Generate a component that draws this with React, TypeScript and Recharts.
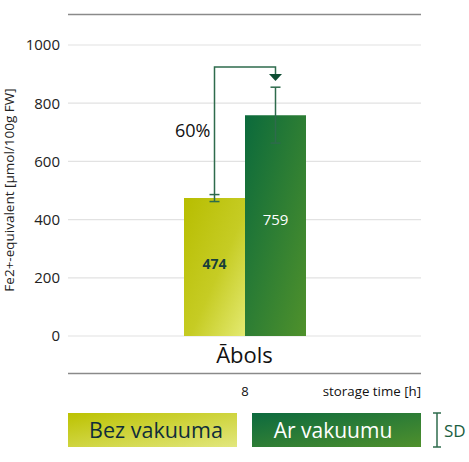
import React from 'react';
import { BarChart, Bar, XAxis, YAxis, CartesianGrid, ErrorBar, LabelList } from 'recharts';

const categories = ['Ābols'];
const bezVakuumaValues = [474];
const arVakuumuValues = [759];
const bezVakuumaSd = [12];
const arVakuumuSd = [96];
const yTicks = [0, 200, 400, 600, 800, 1000];
const storageTimes = ['8'];
const seriesNames = ['Bez vakuuma', 'Ar vakuumu'];
const increaseLabels = ['60%'];
const bracketTopValues = [924];
const arrowTipValues = [876];

const data = categories.map((name, i) => ({
  name,
  bez: bezVakuumaValues[i],
  ar: arVakuumuValues[i],
  bezSd: bezVakuumaSd[i],
  arSd: arVakuumuSd[i],
}));

const FONT = "'Open Sans', sans-serif";
const ERR = '#2e6b4c';

const Bracket = (props: any) => {
  const vb = props.viewBox || {};
  const x = props.x ?? vb.x;
  const y = props.y ?? vb.y;
  const width = props.width ?? vb.width;
  const height = props.height ?? vb.height;
  const index = props.index ?? 0;
  const value = data[index].bez;
  const base = y + height;
  const py = (v: number) => base - (height * v) / value;
  const cx1 = x + width / 2;
  const cx2 = x + width * 1.5;
  const startY = py(value + data[index].bezSd);
  const topY = py(bracketTopValues[index]);
  const tipY = py(arrowTipValues[index]);
  return (
    <g>
      <polyline
        points={`${cx1},${startY} ${cx1},${topY} ${cx2},${topY} ${cx2},${tipY - 7}`}
        fill="none"
        stroke={ERR}
        strokeWidth={1.5}
      />
      <polygon points={`${cx2 - 6.5},${tipY - 7} ${cx2 + 6.5},${tipY - 7} ${cx2},${tipY}`} fill="#0e4d33" />
      <text x={cx1 - 4} y={py(685)} textAnchor="end" fontFamily={FONT} fontSize={18} fontWeight={500} fill="#111">
        {increaseLabels[index]}
      </text>
    </g>
  );
};

export default function App() {
  return (
    <div style={{ position: 'absolute', left: 0, top: 0, width: 469, height: 462, background: '#fff', fontFamily: FONT }}>
      <BarChart
        width={469}
        height={462}
        data={data}
        margin={{ top: 45, right: 48, left: 0, bottom: 96 }}
        barGap={0}
      >
        <defs>
          <linearGradient id="gBez" x1="0" y1="0" x2="1" y2="1">
            <stop offset="0%" stopColor="#b7bd00" />
            <stop offset="55%" stopColor="#c6cc24" />
            <stop offset="100%" stopColor="#e4ea72" />
          </linearGradient>
          <linearGradient id="gAr" x1="0" y1="0" x2="1" y2="1">
            <stop offset="0%" stopColor="#0b6a3c" />
            <stop offset="100%" stopColor="#4f912b" />
          </linearGradient>
        </defs>
        <CartesianGrid vertical={false} stroke="#e2e2e2" strokeWidth={1.2} />
        <XAxis
          dataKey="name"
          axisLine={false}
          tickLine={false}
          height={30}
          tickMargin={5}
          tick={{ fontSize: 22, fill: '#111', fontFamily: FONT }}
        />
        <YAxis
          domain={[0, 1000]}
          ticks={yTicks}
          width={68}
          axisLine={false}
          tickLine={false}
          tick={{ fontSize: 15, fill: '#222', fontFamily: FONT }}
        />
        <Bar dataKey="bez" fill="url(#gBez)" barSize={61} isAnimationActive={false}>
          <ErrorBar dataKey="bezSd" width={5} stroke={ERR} strokeWidth={1.5} />
          <LabelList dataKey="bez" content={Bracket} />
          <LabelList dataKey="bez" position="center" dy={-3} fill="#17403a" fontSize={14} fontWeight={700} fontFamily={FONT} />
        </Bar>
        <Bar dataKey="ar" fill="url(#gAr)" barSize={61} isAnimationActive={false}>
          <ErrorBar dataKey="arSd" width={5} stroke={ERR} strokeWidth={1.5} />
          <LabelList dataKey="ar" position="center" dy={-6} fill="#ffffff" fontSize={15} fontWeight={500} fontFamily={FONT} />
        </Bar>
      </BarChart>
      <svg width={469} height={462} style={{ position: 'absolute', left: 0, top: 0, pointerEvents: 'none' }}>
        <defs>
          <linearGradient id="lBez" x1="0" y1="0" x2="1" y2="1">
            <stop offset="0%" stopColor="#bcc200" />
            <stop offset="100%" stopColor="#e2e77e" />
          </linearGradient>
          <linearGradient id="lAr" x1="0" y1="0" x2="1" y2="1">
            <stop offset="0%" stopColor="#0c6a3f" />
            <stop offset="100%" stopColor="#4f902c" />
          </linearGradient>
        </defs>
        <line x1={68} x2={421} y1={14.5} y2={14.5} stroke="#8a8a8a" strokeWidth={1.3} />
        <line x1={68} x2={421} y1={373.5} y2={373.5} stroke="#8a8a8a" strokeWidth={1.3} />
        <text
          transform="translate(14,190) rotate(-90)"
          textAnchor="middle"
          fontFamily={FONT}
          fontSize={13.5}
          fill="#222"
        >
          Fe2+-equivalent [µmol/100g FW]
        </text>
        <text x={245} y={396} textAnchor="middle" fontFamily={FONT} fontSize={13} fill="#111">
          {storageTimes[0]}
        </text>
        <text x={421} y={396} textAnchor="end" fontFamily={FONT} fontSize={13.3} fill="#111">
          storage time [h]
        </text>
        <rect x={68} y={413} width={169} height={34} fill="url(#lBez)" />
        <text x={156} y={437.5} textAnchor="middle" fontFamily={FONT} fontSize={21.5} fill="#0f2d3a">
          {seriesNames[0]}
        </text>
        <rect x={252} y={413} width={169} height={34} fill="url(#lAr)" />
        <text x={333} y={437.5} textAnchor="middle" fontFamily={FONT} fontSize={21} fill="#ffffff">
          {seriesNames[1]}
        </text>
        <line x1={437} x2={437} y1={413} y2={447} stroke={ERR} strokeWidth={1.5} />
        <line x1={433} x2={441} y1={413} y2={413} stroke={ERR} strokeWidth={1.5} />
        <line x1={433} x2={441} y1={447} y2={447} stroke={ERR} strokeWidth={1.5} />
        <text x={444} y={437} fontFamily={FONT} fontSize={17} fill="#1a5e40">
          SD
        </text>
      </svg>
    </div>
  );
}
